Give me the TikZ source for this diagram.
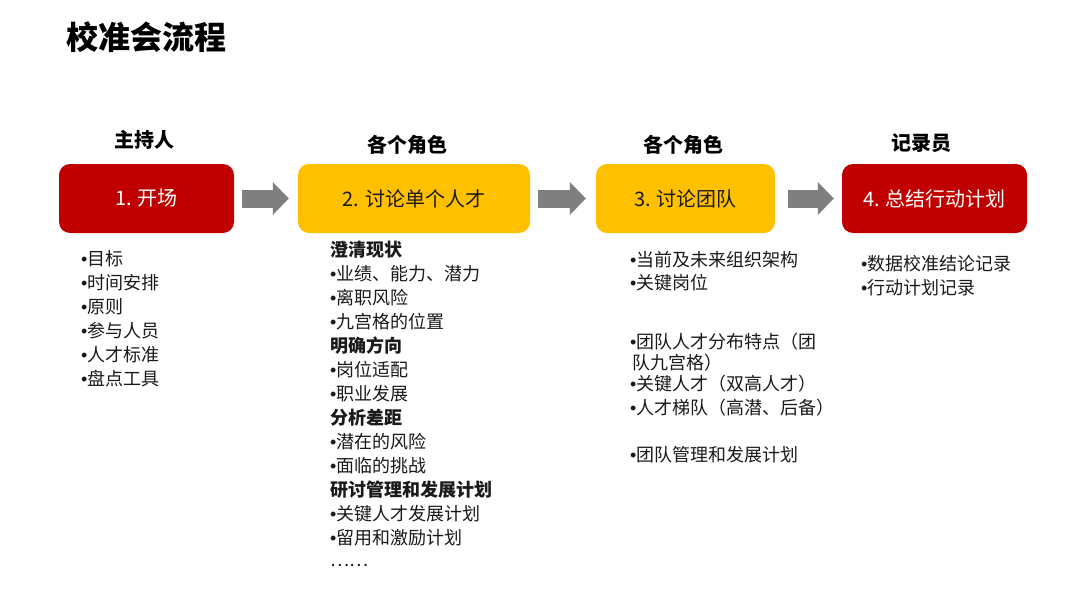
\documentclass[tikz,border=0pt]{standalone}
\usepackage{fontspec}
\setmainfont{Noto Sans CJK SC}
\newfontfamily\latinbul{Liberation Sans}
\usetikzlibrary{arrows.meta}
\definecolor{cred}{HTML}{C00000}
\definecolor{cyel}{HTML}{FFC000}
\definecolor{carrow}{HTML}{7F7F7F}
\definecolor{ctext}{HTML}{1A1A1A}
\newcommand\bul{{\latinbul •}}
\tikzset{
  stepbox/.style={rounded corners=11pt, inner sep=0pt, minimum height=69pt,
    font=\fontsize{20}{24}\selectfont},
  redbox/.style={stepbox, fill=cred, text=white},
  yelbox/.style={stepbox, fill=cyel, text=ctext},
  role/.style={font=\bfseries\fontsize{20}{24}\selectfont, text=black},
  garrow/.style={draw=carrow, line width=18pt, -{Triangle[length=16pt,width=32pt]}},
  item/.style={anchor=west, inner sep=0pt, text=ctext, font=\fontsize{18}{22}\selectfont},
  head/.style={item, font=\bfseries\fontsize{18}{22}\selectfont}
}
\begin{document}
\begin{tikzpicture}[x=1pt,y=-1pt]
\useasboundingbox[fill=white] (0,0) rectangle (1080,608);

\node[anchor=west, inner sep=0pt, font=\bfseries\fontsize{32}{36}\selectfont] (title) at (66,37) {校准会流程};

% boxes
\node[redbox, minimum width=175pt] (b1) at (146.5,198.5) {1. 开场};
\node[yelbox, minimum width=232pt] (b2) at (414,198.5) {2. 讨论单个人才};
\node[yelbox, minimum width=179pt] (b3) at (685.5,198.5) {3. 讨论团队};
\node[redbox, minimum width=185pt] (b4) at (934.5,198.5) {4. 总结行动计划};

% roles
\node[role] (r1) at (144,140) {主持人};
\node[role] (r2) at (407,145) {各个角色};
\node[role] (r3) at (683,145) {各个角色};
\node[role] (r4) at (921,143) {记录员};

% arrows
\draw[garrow, shorten <=8pt, shorten >=9pt] (b1.east) -- (b2.west);
\draw[garrow, shorten <=8pt, shorten >=10pt] (b2.east) -- (b3.west);
\draw[garrow, shorten <=13pt, shorten >=8pt] (b3.east) -- (b4.west);

% column 1
\foreach \y/\t [count=\i] in {259/目标,283/时间安排,307/原则,331/参与人员,355/人才标准,379/盘点工具}
  \node[item] (a\i) at (81,\y) {\bul\t};

% column 2
\node[head] (h1) at (330,250) {澄清现状};
\node[item] (c1) at (330,274) {\bul 业绩、能力、潜力};
\node[item] (c2) at (330,298) {\bul 离职风险};
\node[item] (c3) at (330,322) {\bul 九宫格的位置};
\node[head] (h2) at (330,346) {明确方向};
\node[item] (c4) at (330,370) {\bul 岗位适配};
\node[item] (c5) at (330,394) {\bul 职业发展};
\node[head] (h3) at (330,418) {分析差距};
\node[item] (c6) at (330,442) {\bul 潜在的风险};
\node[item] (c7) at (330,466) {\bul 面临的挑战};
\node[head] (h4) at (330,490) {研讨管理和发展计划};
\node[item] (c8) at (330,514) {\bul 关键人才发展计划};
\node[item] (c9) at (330,538) {\bul 留用和激励计划};
\node[item] (c10) at (330,565) {……};

% column 3
\node[item] (d1) at (630,260) {\bul 当前及未来组织架构};
\node[item] (d2) at (630,283) {\bul 关键岗位};
\node[item] (d3) at (630,342) {\bul 团队人才分布特点（团};
\node[item] (d4) at (632,363) {队九宫格）};
\node[item] (d5) at (630,384) {\bul 关键人才（双高人才）};
\node[item] (d6) at (630,408) {\bul 人才梯队（高潜、后备）};
\node[item] (d7) at (630,455) {\bul 团队管理和发展计划};

% column 4
\node[item] (e1) at (861,264) {\bul 数据校准结论记录};
\node[item] (e2) at (861,288) {\bul 行动计划记录};
\end{tikzpicture}
\end{document}
